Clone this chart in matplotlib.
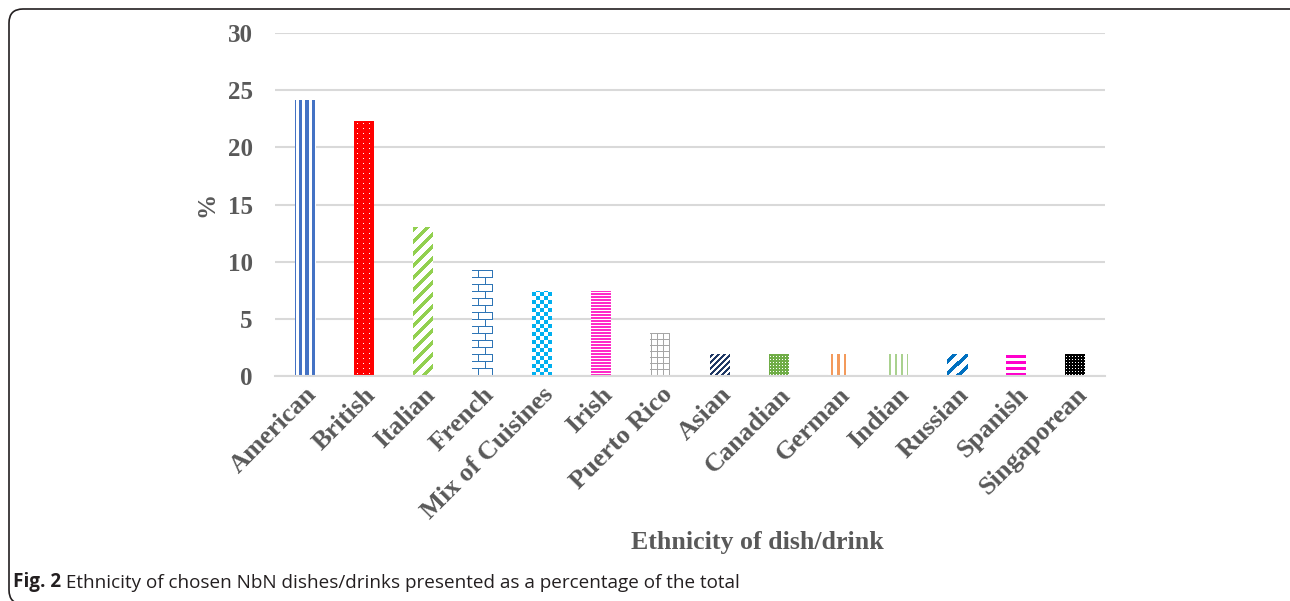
import numpy as np
import matplotlib
matplotlib.use("Agg")
import matplotlib.pyplot as plt
from matplotlib.colors import to_rgb
from matplotlib.patches import FancyBboxPatch
from matplotlib.transforms import IdentityTransform

# Share of chosen dishes/drinks by ethnicity (%)
categories = ["American", "British", "Italian", "French", "Mix of Cuisines",
              "Irish", "Puerto Rico", "Asian", "Canadian", "German",
              "Indian", "Russian", "Spanish", "Singaporean"]
percent = [24.07, 22.22, 12.96, 9.26, 7.41, 7.41, 3.70,
           1.85, 1.85, 1.85, 1.85, 1.85, 1.85, 1.85]
yticks = [0, 5, 10, 15, 20, 25, 30]

# Fill pattern for each bar: (pattern, foreground, background)
fills = [
    ("wide_vertical", "#4472C4", "#FFFFFF"),
    ("dots", "#FFFFFF", "#FF0000"),
    ("wide_upward", "#92D050", "#FFFFFF"),
    ("brick", "#2E75B6", "#FFFFFF"),
    ("checker", "#00B0F0", "#FFFFFF"),
    ("narrow_horizontal", "#FF2BC8", "#FFFFFF"),
    ("grid", "#A6A6A6", "#FFFFFF"),
    ("dense_upward", "#1F3864", "#FFFFFF"),
    ("small_dots", "#FFFFFF", "#70AD47"),
    ("thin_vertical", "#F39A5B", "#FFFFFF"),
    ("light_vertical", "#A9D18E", "#FFFFFF"),
    ("wide_upward", "#0070C0", "#FFFFFF"),
    ("thick_horizontal", "#FF00CC", "#FFFFFF"),
    ("small_dots", "#FFFFFF", "#000000"),
]


def pattern_mask(kind, h, w):
    rr, cc = np.mgrid[0:h, 0:w]
    if kind == "wide_vertical":
        return ((cc - 4) % 6) < 3
    if kind == "dots":
        return (rr % 5 == 2) & (cc % 6 == 3)
    if kind == "wide_upward":
        return ((rr - cc) % 12) < 5
    if kind == "brick":
        row = rr // 7
        horiz = rr % 7 == 0
        vert = np.where(row % 2 == 0, cc % 14 == 6, cc % 14 == 13)
        return horiz | vert
    if kind == "checker":
        return ((rr // 4 + cc // 4) % 2) == 0
    if kind == "narrow_horizontal":
        return (rr % 3) != 2
    if kind == "grid":
        return (cc % 6 == 1) | (rr % 6 == 0)
    if kind == "dense_upward":
        return ((rr - cc) % 6) < 3
    if kind == "small_dots":
        return (rr % 3 == 1) & (cc % 3 == 1)
    if kind == "thin_vertical":
        return (cc % 6 == 3) | (cc % 6 == 4)
    if kind == "light_vertical":
        return (cc % 6 == 2) | (cc % 6 == 3)
    if kind == "thick_horizontal":
        return (rr % 6) < 3
    return np.zeros((h, w), bool)


W, H = 1290, 601
fig = plt.figure(figsize=(W / 100, H / 100), dpi=100)
fig.patch.set_facecolor("white")

ax = fig.add_axes([275 / W, 1 - 376 / H, 830 / W, 343 / H])
ax.set_xlim(-0.5, len(categories) - 0.5)
ax.set_ylim(0, 30)

x = np.arange(len(categories))
bars = ax.bar(x, percent, width=0.34, facecolor="none", edgecolor="none", zorder=2)

# Patterned fill for each bar, laid out on the screen pixel grid
inv = ax.transData.inverted()
for bar, (kind, fg, bg) in zip(bars, fills):
    bb = bar.get_window_extent()
    px0, px1 = int(round(bb.x0)), int(round(bb.x1))
    py0, py1 = int(round(bb.y0)), int(np.ceil(bb.y1))
    h, w = py1 - py0, px1 - px0
    m = pattern_mask(kind, h, w)
    img = np.where(m[..., None], np.array(to_rgb(fg)), np.array(to_rgb(bg)))
    (dx0, dy0), (dx1, dy1) = inv.transform([(px0, py0), (px1, py1)])
    ax.imshow(img, origin="lower", extent=(dx0, dx1, dy0, dy1),
              interpolation="nearest", aspect="auto", zorder=2, clip_path=bar)

ax.set_xlim(-0.5, len(categories) - 0.5)
ax.set_ylim(0, 30)

serif = ["Liberation Serif", "DejaVu Serif"]
grey = "#595959"

ax.set_yticks(yticks)
ax.yaxis.grid(True, color="#D9D9D9", linewidth=1.5)
ax.set_axisbelow(True)
for side in ("left", "right", "top"):
    ax.spines[side].set_visible(False)
ax.spines["bottom"].set_color("#D9D9D9")
ax.spines["bottom"].set_linewidth(1.5)
ax.tick_params(axis="both", length=0)
ax.tick_params(axis="y", pad=16)
ax.tick_params(axis="x", pad=5)

ax.set_xticks(x)
ax.set_xticklabels(categories, rotation=45, ha="right", va="top",
                   rotation_mode="anchor")
for lab in ax.get_yticklabels():
    lab.set_fontfamily(serif)
    lab.set_fontweight("bold")
    lab.set_fontsize(18)
    lab.set_color(grey)
for lab in ax.get_xticklabels():
    lab.set_fontfamily(serif)
    lab.set_fontweight("bold")
    lab.set_fontsize(19)
    lab.set_color(grey)

ax.set_ylabel("%", fontfamily=serif, fontweight="bold", fontsize=18, color=grey)
ax.yaxis.set_label_coords(-(275 - 218) / 830, 0.5)

fig.text(757 / W, 1 - 543 / H, "Ethnicity of dish/drink", fontfamily=serif,
         fontweight="bold", fontsize=18.6, color=grey, ha="center", va="center")

# Caption
cap_font = ["Liberation Sans Narrow", "Open Sans", "DejaVu Sans"]
t1 = fig.text(13 / W, 1 - 582 / H, "Fig. 2", fontfamily=cap_font,
              fontweight="bold", fontsize=13.6, color="#231F20", va="center")
plt.annotate(" Ethnicity of chosen NbN dishes/drinks presented as a percentage of the total",
             xy=(1, 0), xycoords=t1, va="bottom", ha="left",
             fontfamily=cap_font, fontsize=13.6, color="#231F20",
             annotation_clip=False)

# Rounded frame around the figure
frame = FancyBboxPatch((9, -3), 1298, 601 - 9 + 3,
                       boxstyle="round,pad=0,rounding_size=14",
                       transform=IdentityTransform(), facecolor="none",
                       edgecolor="#231F20", linewidth=1.2)
fig.patches.append(frame)

fig.savefig("out.png", dpi=100)
